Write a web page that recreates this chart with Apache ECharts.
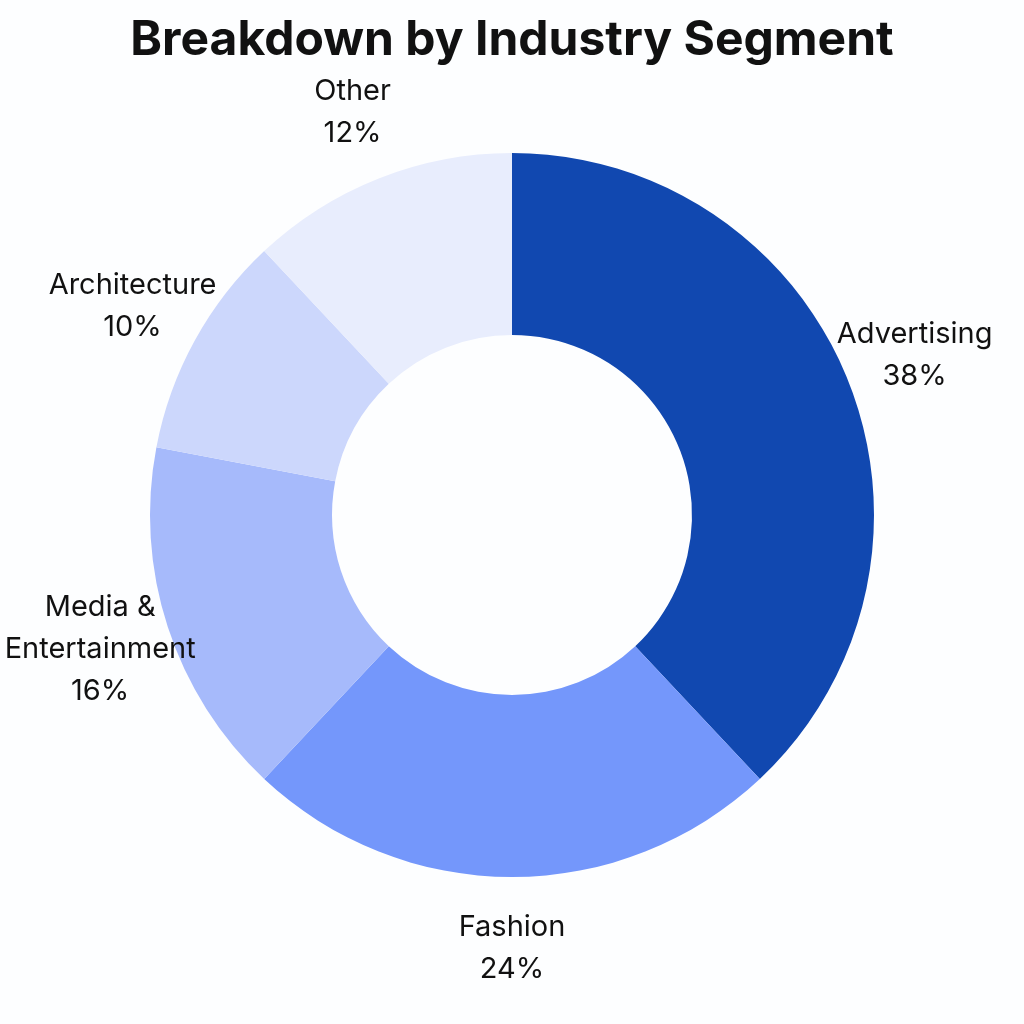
<!DOCTYPE html>
<html><head><meta charset="utf-8">
<script src="https://cdn.jsdelivr.net/npm/echarts@6/dist/echarts.min.js"></script>
<style>html,body{margin:0;padding:0;background:#fdfeff}#c{width:1024px;height:1024px}</style>
</head><body><div id="c"></div>
<script>
const categories = ['Advertising','Fashion','Media &\nEntertainment','Architecture','Other'];
const values = [38,24,16,10,12];
const colors = ['#1148B0','#7497FB','#A6BAFB','#CCD7FC','#E8EDFD'];
const chart = echarts.init(document.getElementById('c'));
chart.setOption({
  backgroundColor:'#fdfeff',
  title:{text:'Breakdown by Industry Segment',left:'center',top:12,
    textStyle:{fontFamily:'Inter',fontSize:48,fontWeight:'bold',color:'#111'}},
  series:[{
    type:'pie',center:[512,515],radius:[180,362],startAngle:90,clockwise:true,silent:true,
    data:categories.map((n,i)=>({name:n,value:values[i],itemStyle:{color:colors[i]}})),
    label:{show:false},labelLine:{show:false}
  },{
    type:'pie',center:[512,515],radius:[360,500],startAngle:90,clockwise:true,silent:true,
    itemStyle:{color:'rgba(0,0,0,0)'},
    data:categories.map((n,i)=>({name:n,value:values[i]})),
    label:{show:true,position:'inside',formatter:'{b}\n{c}%',fontFamily:'Inter',fontSize:29,
      color:'#111',lineHeight:42,align:'center'},
    labelLine:{show:false}
  }]
});
</script></body></html>
